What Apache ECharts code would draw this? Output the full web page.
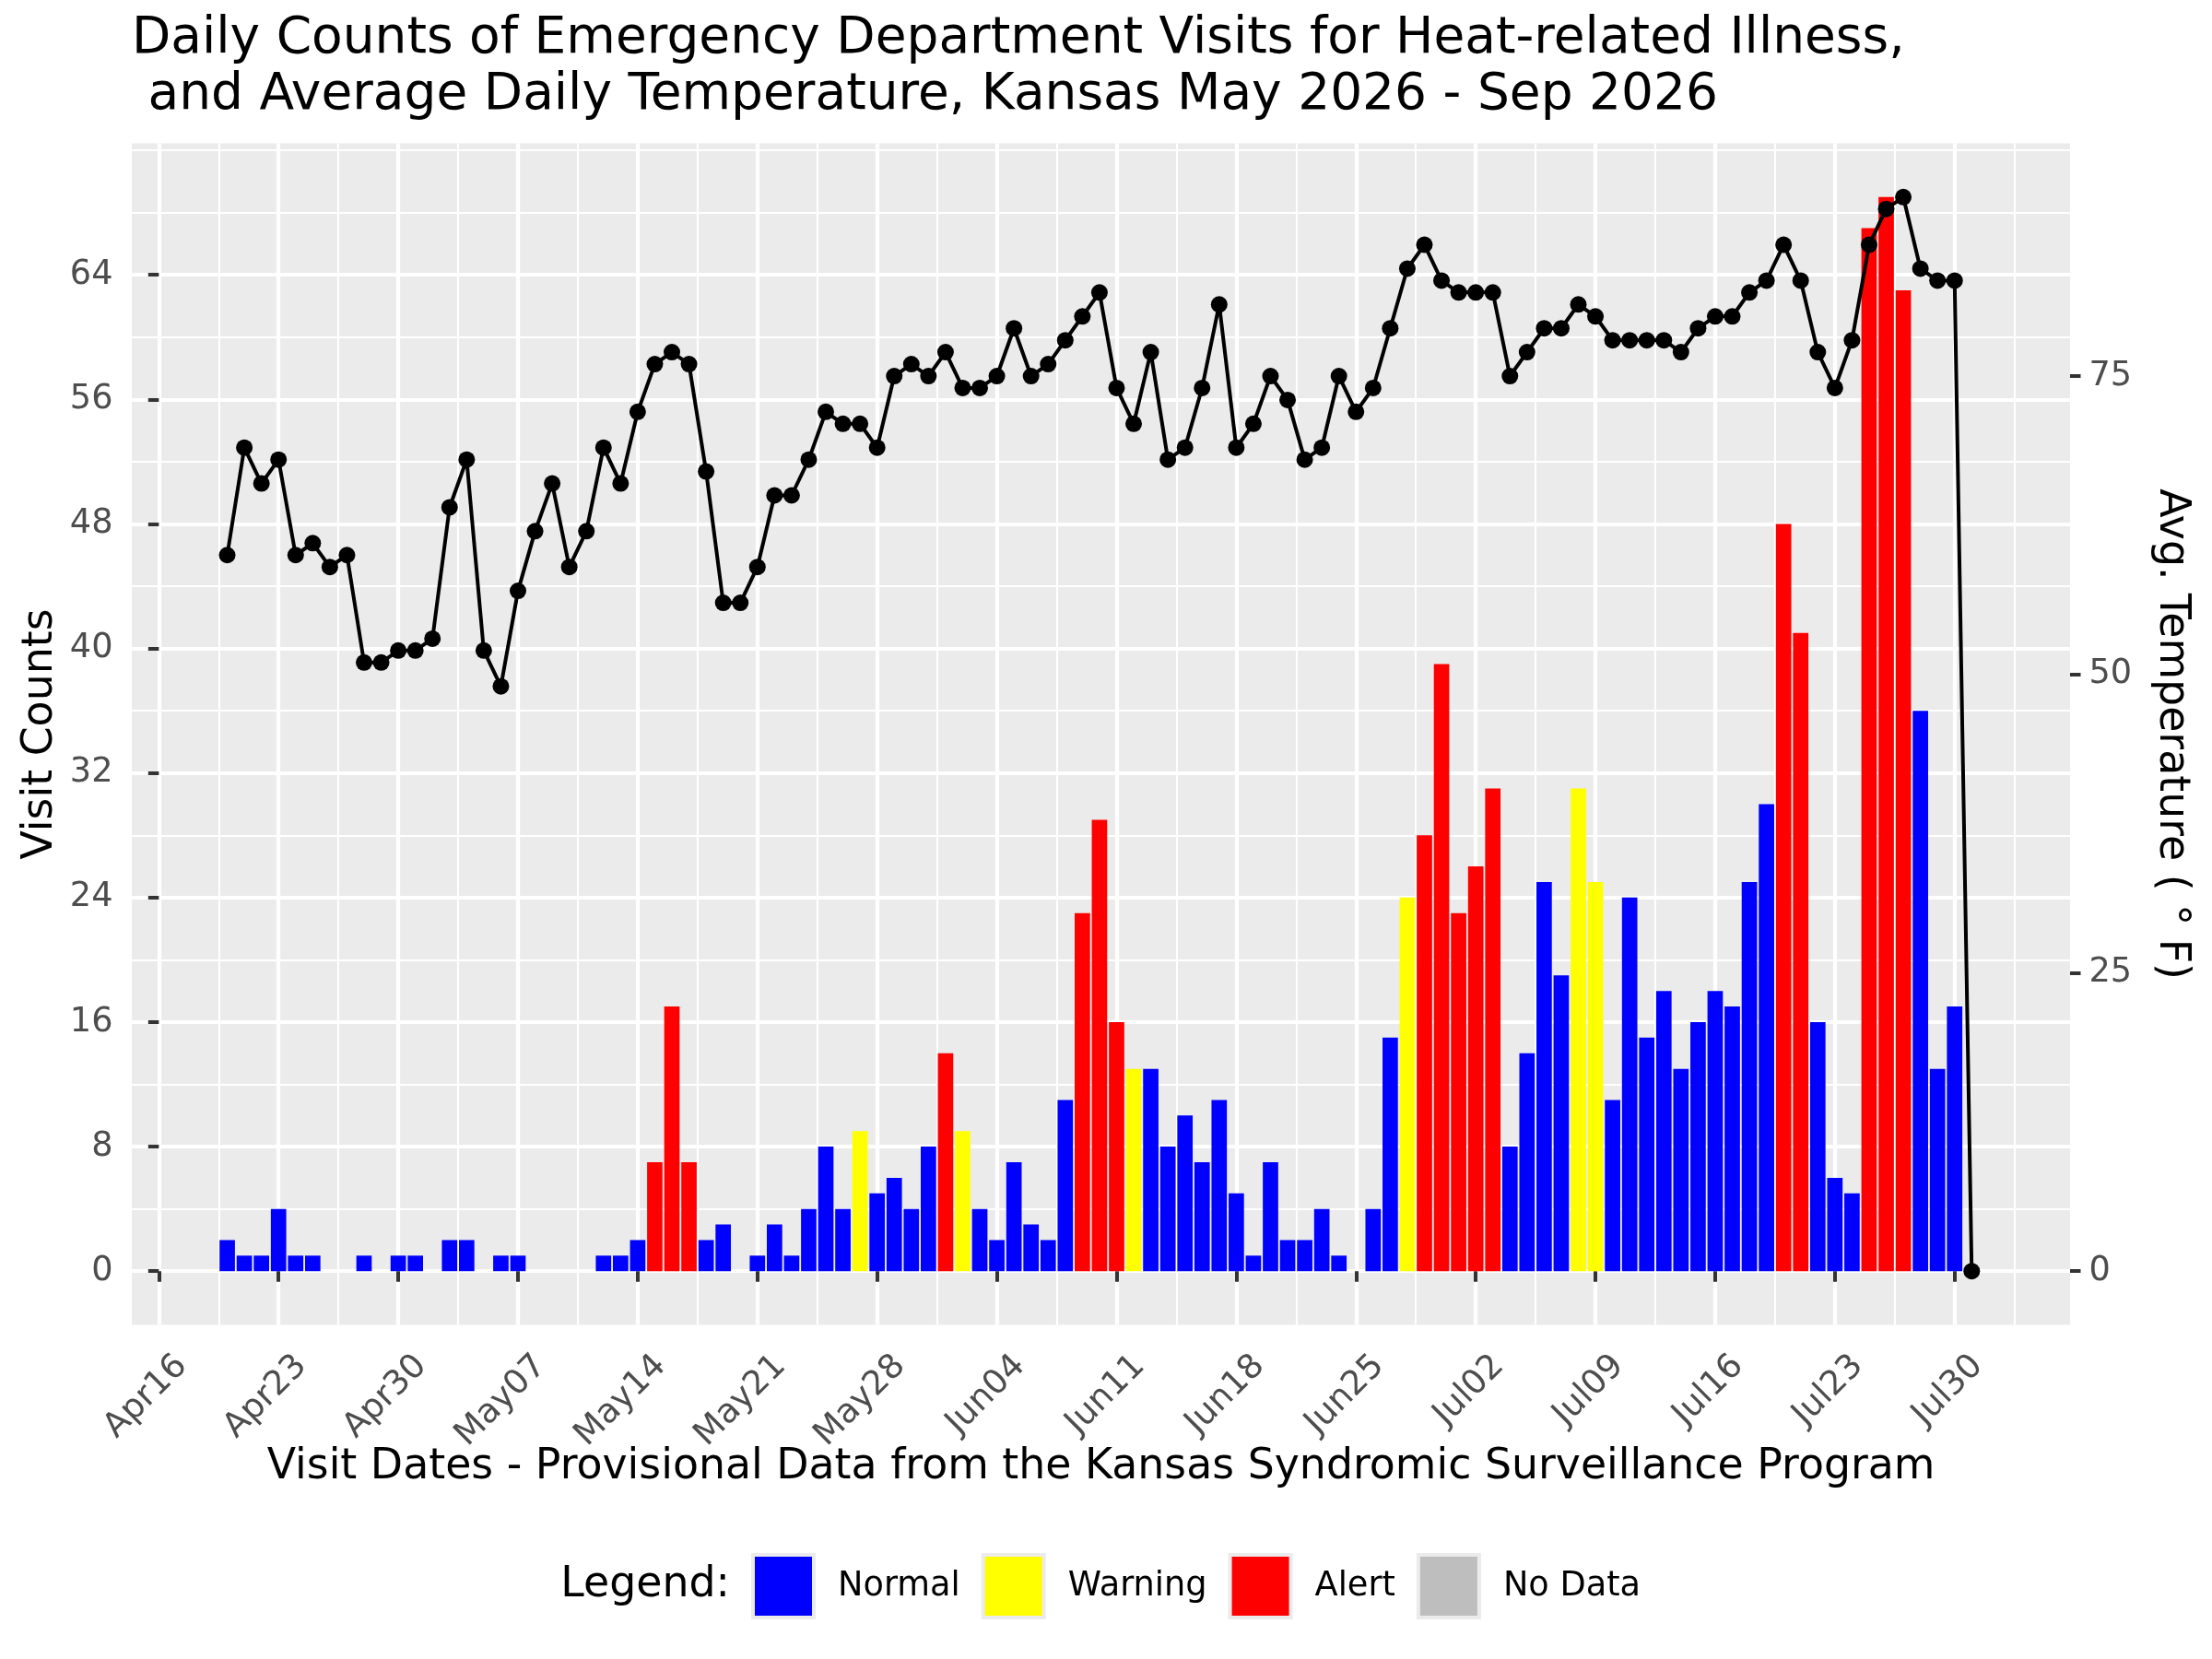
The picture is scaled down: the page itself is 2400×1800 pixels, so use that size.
<!DOCTYPE html>
<html>
<head>
<meta charset="utf-8">
<title>Heat-related Illness ED Visits, Kansas</title>
<script src="https://cdn.jsdelivr.net/npm/echarts@6.0.0/dist/echarts.min.js"></script>
<style>
  html, body { margin: 0; padding: 0; background: #ffffff; }
  #chart { width: 2400px; height: 1800px; }
</style>
</head>
<body>
<div id="chart"></div>
<script>
'use strict';

// x values are days counted from Apr16; the first visit day (Apr20) is day 4
var firstDay = 4;

var tickLabels = ['Apr16', 'Apr23', 'Apr30', 'May07', 'May14', 'May21', 'May28', 'Jun04',
                  'Jun11', 'Jun18', 'Jun25', 'Jul02', 'Jul09', 'Jul16', 'Jul23', 'Jul30'];
var tickDays = [0, 7, 14, 21, 28, 35, 42, 49, 56, 63, 70, 77, 84, 91, 98, 105];
var minorDays = [3.5, 10.5, 17.5, 24.5, 31.5, 38.5, 45.5, 52.5, 59.5, 66.5, 73.5, 80.5,
                 87.5, 94.5, 101.5, 108.5];

var countTicks = [0, 8, 16, 24, 32, 40, 48, 56, 64];
var countMinor = [4, 12, 20, 28, 36, 44, 52, 60, 68, 72];
var tempTicks = [0, 25, 50, 75];

// daily visit counts, Apr20 .. Jul30
var counts = [
  2, 1, 1, 4, 1, 1, 0,
  0, 1, 0, 1, 1, 0, 2,
  2, 0, 1, 1, 0, 0, 0,
  0, 1, 1, 2, 7, 17, 7,
  2, 3, 0, 1, 3, 1, 4,
  8, 4, 9, 5, 6, 4, 8,
  14, 9, 4, 2, 7, 3, 2,
  11, 23, 29, 16, 13, 13, 8,
  10, 7, 11, 5, 1, 7, 2,
  2, 4, 1, 0, 4, 15, 24,
  28, 39, 23, 26, 31, 8, 14,
  25, 19, 31, 25, 11, 24, 15,
  18, 13, 16, 18, 17, 25, 30,
  48, 41, 16, 6, 5, 67, 69,
  63, 36, 13, 17
];

// alert level per day: N = Normal, W = Warning, A = Alert
var alertLevel = [
  'N', 'N', 'N', 'N', 'N', 'N', 'N',
  'N', 'N', 'N', 'N', 'N', 'N', 'N',
  'N', 'N', 'N', 'N', 'N', 'N', 'N',
  'N', 'N', 'N', 'N', 'A', 'A', 'A',
  'N', 'N', 'N', 'N', 'N', 'N', 'N',
  'N', 'N', 'W', 'N', 'N', 'N', 'N',
  'A', 'W', 'N', 'N', 'N', 'N', 'N',
  'N', 'A', 'A', 'A', 'W', 'N', 'N',
  'N', 'N', 'N', 'N', 'N', 'N', 'N',
  'N', 'N', 'N', 'N', 'N', 'N', 'W',
  'A', 'A', 'A', 'A', 'A', 'N', 'N',
  'N', 'N', 'W', 'W', 'N', 'N', 'N',
  'N', 'N', 'N', 'N', 'N', 'N', 'N',
  'A', 'A', 'N', 'N', 'N', 'A', 'A',
  'A', 'N', 'N', 'N'
];

// average daily temperature (F), Apr20 .. Jul31
var temps = [
  60, 69, 66, 68, 60, 61, 59,
  60, 51, 51, 52, 52, 53, 64,
  68, 52, 49, 57, 62, 66, 59,
  62, 69, 66, 72, 76, 77, 76,
  67, 56, 56, 59, 65, 65, 68,
  72, 71, 71, 69, 75, 76, 75,
  77, 74, 74, 75, 79, 75, 76,
  78, 80, 82, 74, 71, 77, 68,
  69, 74, 81, 69, 71, 75, 73,
  68, 69, 75, 72, 74, 79, 84,
  86, 83, 82, 82, 82, 75, 77,
  79, 79, 81, 80, 78, 78, 78,
  78, 77, 79, 80, 80, 82, 83,
  86, 83, 77, 74, 78, 86, 89,
  90, 84, 83, 83, 0
];

var levelCodes = ['N', 'W', 'A', 'X'];
var levelNames = ['Normal', 'Warning', 'Alert', 'No Data'];
var levelColors = ['#0000FF', '#FFFF00', '#FF0000', '#BEBEBE'];

var tempScale = 90 / 69;   // secondary axis: temperature = count * tempScale
var countMin = -3.45, countMax = 72.45;
var dayMin = -1.58, dayMax = 111.75;

var font = 'DejaVu Sans';
var majorGrid = { color: '#FFFFFF', width: 4.2 };
var minorGrid = { color: '#FFFFFF', width: 2.1 };
var tickStyle = { color: '#333333', width: 4 };

var chart = echarts.init(document.getElementById('chart'));

var barSeries = levelCodes.map(function (code, k) {
  var data = [];
  counts.forEach(function (c, i) {
    if (alertLevel[i] === code && c > 0) {
      data.push([firstDay + i, c]);
    }
  });
  return {
    name: levelNames[k],
    type: 'bar',
    xAxisIndex: 0,
    yAxisIndex: 0,
    barWidth: 16.7,
    barGap: '-100%',
    itemStyle: { color: levelColors[k] },
    z: 2,
    data: data
  };
});

var tempData = temps.map(function (t, i) {
  return [firstDay + i, t];
});

var option = {
  animation: false,
  backgroundColor: '#FFFFFF',
  textStyle: { fontFamily: font },
  grid: {
    left: 143,
    right: 154,
    top: 155.5,
    bottom: 362.5,
    containLabel: false,
    outerBoundsMode: 'none',
    show: true,
    backgroundColor: '#EBEBEB',
    borderWidth: 0
  },
  xAxis: [
    {
      type: 'value',
      min: dayMin,
      max: dayMax,
      axisLine: { show: false },
      axisTick: { show: true, length: 11.5, lineStyle: tickStyle, customValues: tickDays },
      axisLabel: {
        show: true,
        customValues: tickDays,
        rotate: 45,
        verticalAlign: 'top',
        padding: [17, 0, 0, 0],
        margin: 14,
        fontSize: 36.7,
        fontFamily: font,
        color: '#4D4D4D',
        formatter: function (v) {
          return tickLabels[Math.round(v / 7)];
        }
      },
      splitLine: { show: true, lineStyle: majorGrid }
    },
    {
      type: 'value',
      min: dayMin,
      max: dayMax,
      position: 'bottom',
      axisLine: { show: false },
      axisTick: { show: false, customValues: minorDays },
      axisLabel: { show: false },
      splitLine: { show: true, lineStyle: minorGrid }
    }
  ],
  yAxis: [
    {
      type: 'value',
      min: countMin,
      max: countMax,
      position: 'left',
      axisLine: { show: false },
      axisTick: { show: true, length: 11.5, lineStyle: tickStyle, customValues: countTicks },
      axisLabel: {
        customValues: countTicks,
        margin: 20.5,
        fontSize: 36.7,
        fontFamily: font,
        color: '#4D4D4D'
      },
      splitLine: { show: true, lineStyle: majorGrid }
    },
    {
      type: 'value',
      min: countMin,
      max: countMax,
      position: 'left',
      axisLine: { show: false },
      axisTick: { show: false, customValues: countMinor },
      axisLabel: { show: false },
      splitLine: { show: true, lineStyle: minorGrid }
    },
    {
      type: 'value',
      min: countMin * tempScale,
      max: countMax * tempScale,
      position: 'right',
      axisLine: { show: false },
      axisTick: { show: true, length: 11.5, lineStyle: tickStyle, customValues: tempTicks },
      axisLabel: {
        customValues: tempTicks,
        margin: 20.5,
        fontSize: 36.7,
        fontFamily: font,
        color: '#4D4D4D'
      },
      splitLine: { show: false }
    }
  ],
  legend: {
    left: 810,
    top: 1680,
    orient: 'horizontal',
    itemWidth: 66,
    itemHeight: 68,
    itemGap: 23,
    icon: 'rect',
    selectedMode: false,
    itemStyle: { borderColor: '#EBEBEB', borderWidth: 4 },
    textStyle: { fontSize: 36.7, fontFamily: font, color: '#000000', padding: [0, 0, 0, 21] },
    data: levelNames
  },
  graphic: [
    {
      type: 'text', x: 143, y: 43,
      style: {
        text: 'Daily Counts of Emergency Department Visits for Heat-related Illness,',
        fontSize: 55, fontFamily: font, fill: '#000000',
        textAlign: 'left', textVerticalAlign: 'middle'
      }
    },
    {
      type: 'text', x: 143, y: 104,
      style: {
        text: ' and Average Daily Temperature, Kansas May 2026 - Sep 2026',
        fontSize: 55, fontFamily: font, fill: '#000000',
        textAlign: 'left', textVerticalAlign: 'middle'
      }
    },
    {
      type: 'text', x: 44, y: 796.5, rotation: Math.PI / 2,
      style: {
        text: 'Visit Counts',
        fontSize: 45.8, fontFamily: font, fill: '#000000',
        textAlign: 'center', textVerticalAlign: 'middle'
      }
    },
    {
      type: 'text', x: 2356, y: 796.5, rotation: -Math.PI / 2,
      style: {
        text: 'Avg. Temperature ( \u00B0 F)',
        fontSize: 45.8, fontFamily: font, fill: '#000000',
        textAlign: 'center', textVerticalAlign: 'middle'
      }
    },
    {
      type: 'text', x: 1194.6, y: 1592,
      style: {
        text: 'Visit Dates - Provisional Data from the Kansas Syndromic Surveillance Program',
        fontSize: 45.8, fontFamily: font, fill: '#000000',
        textAlign: 'center', textVerticalAlign: 'middle'
      }
    },
    {
      type: 'text', x: 792, y: 1720,
      style: {
        text: 'Legend:',
        fontSize: 45.8, fontFamily: font, fill: '#000000',
        textAlign: 'right', textVerticalAlign: 'middle'
      }
    }
  ],
  series: barSeries.concat([
    {
      name: 'Avg. Temperature',
      type: 'line',
      xAxisIndex: 0,
      yAxisIndex: 2,
      data: tempData,
      symbol: 'circle',
      symbolSize: 18,
      showSymbol: true,
      lineStyle: { color: '#000000', width: 4 },
      itemStyle: { color: '#000000', borderWidth: 0 },
      z: 3
    }
  ])
};

chart.setOption(option);
</script>
</body>
</html>
